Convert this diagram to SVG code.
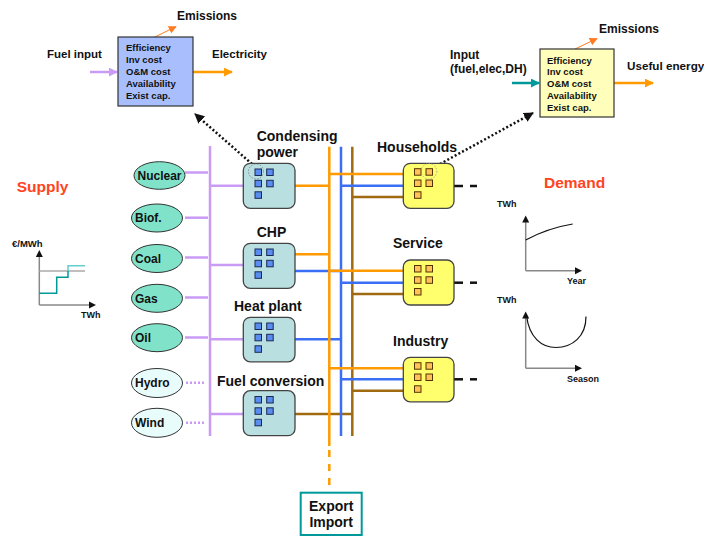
<svg xmlns="http://www.w3.org/2000/svg" width="704" height="536" viewBox="0 0 704 536">
<defs>
<style>
text{font-family:"Liberation Sans",Arial,sans-serif;font-weight:bold;fill:#111}
.lbl{font-size:14px}
.ell{font-size:12px}
.sm{font-size:9.5px}
.ax{font-size:9px}
.mid{font-size:12px}
.red{font-size:15.5px;fill:#ff4422}
.src{fill:#80e2c9;stroke:#333;stroke-width:1}
.src2{fill:#e8fcfc;stroke:#333;stroke-width:1}
.pbox{fill:#b9dfe0;stroke:#444;stroke-width:1.3}
.cbox{fill:#ffff6e;stroke:#444;stroke-width:1.3}
.bsq{fill:#5b8cf0;stroke:#1a2a55;stroke-width:1}
.osq{fill:#ffc35a;stroke:#553300;stroke-width:1}
.pu{stroke:#c99bf5;stroke-width:2.5;fill:none}
.pud{stroke:#c99bf5;stroke-width:2.5;fill:none;stroke-dasharray:2 2}
.or{stroke:#ff9a00;stroke-width:2.5;fill:none}
.bl{stroke:#3a6ff5;stroke-width:2.5;fill:none}
.br{stroke:#a06a10;stroke-width:2.5;fill:none}
.dash{stroke:#111;stroke-width:2.5}
.dot{stroke:#111;stroke-width:2.5;stroke-dasharray:2 2.2;fill:none}
.circ{fill:none;stroke:#777;stroke-width:0.8;stroke-dasharray:1.5 1.5}
.axis{stroke:#888;stroke-width:1.5;fill:none}
</style>
<marker id="ahK" viewBox="0 0 10 10" refX="9" refY="5" markerWidth="10" markerHeight="10" markerUnits="userSpaceOnUse" orient="auto"><path d="M0,0L10,5L0,10z" fill="#111"/></marker>
<marker id="ahO" viewBox="0 0 10 10" refX="9" refY="5" markerWidth="9" markerHeight="9" markerUnits="userSpaceOnUse" orient="auto"><path d="M0,0L10,5L0,10z" fill="#ff9a00"/></marker>
<marker id="ahOs" viewBox="0 0 10 10" refX="9" refY="5" markerWidth="8" markerHeight="8" markerUnits="userSpaceOnUse" orient="auto"><path d="M0,0L10,5L0,10z" fill="#ff7a20"/></marker>
<marker id="ahP" viewBox="0 0 10 10" refX="9" refY="5" markerWidth="9" markerHeight="9" markerUnits="userSpaceOnUse" orient="auto"><path d="M0,0L10,5L0,10z" fill="#c99bf5"/></marker>
<marker id="ahT" viewBox="0 0 10 10" refX="9" refY="5" markerWidth="9" markerHeight="9" markerUnits="userSpaceOnUse" orient="auto"><path d="M0,0L10,5L0,10z" fill="#009999"/></marker>
</defs>
<rect width="704" height="536" fill="#fff"/>

<g id="connectors">
<line class="pu" x1="210" y1="146" x2="210" y2="436"/>
<line class="pu" x1="185" y1="172.5" x2="208" y2="172.5"/>
<line class="pu" x1="185" y1="217.7" x2="208" y2="217.7"/>
<line class="pu" x1="185" y1="257.5" x2="208" y2="257.5"/>
<line class="pu" x1="185" y1="297.5" x2="208" y2="297.5"/>
<line class="pu" x1="185" y1="337.5" x2="208" y2="337.5"/>
<line class="pud" x1="186" y1="382.7" x2="206" y2="382.7"/>
<line class="pud" x1="186" y1="422.7" x2="206" y2="422.7"/>
<line class="pu" x1="210" y1="185.7" x2="243" y2="185.7"/>
<line class="pu" x1="210" y1="265" x2="243" y2="265"/>
<line class="pu" x1="210" y1="339.3" x2="243" y2="339.3"/>
<line class="pu" x1="210" y1="414" x2="243" y2="414"/>
<line class="bl" x1="295" y1="271" x2="341" y2="271"/>
<line class="bl" x1="295" y1="339.3" x2="341" y2="339.3"/>
<line class="br" x1="295" y1="414" x2="352.3" y2="414"/>
<line class="br" x1="352.3" y1="146.7" x2="352.3" y2="436"/>
<line class="bl" x1="341" y1="146.7" x2="341" y2="436"/>
<line class="or" x1="329.3" y1="146.7" x2="329.3" y2="446"/>
<line class="or" x1="329.3" y1="450" x2="329.3" y2="488" stroke-dasharray="7 7"/>
<line class="or" x1="295" y1="185.7" x2="329.3" y2="185.7"/>
<line class="or" x1="295" y1="254.3" x2="329.3" y2="254.3"/>
<line class="or" x1="329.3" y1="174" x2="403" y2="174"/>
<line class="bl" x1="341" y1="185.7" x2="403" y2="185.7"/>
<line class="br" x1="352.3" y1="197" x2="403" y2="197"/>
<line class="or" x1="329.3" y1="270.7" x2="403" y2="270.7"/>
<line class="bl" x1="341" y1="282.7" x2="403" y2="282.7"/>
<line class="br" x1="352.3" y1="294" x2="403" y2="294"/>
<line class="or" x1="329.3" y1="368.3" x2="403" y2="368.3"/>
<line class="bl" x1="341" y1="379.3" x2="403" y2="379.3"/>
<line class="br" x1="352.3" y1="390.7" x2="403" y2="390.7"/>
<line class="dash" x1="454" y1="186" x2="463" y2="186"/>
<line class="dash" x1="470" y1="186" x2="477" y2="186"/>
<line class="dash" x1="454" y1="282.7" x2="463" y2="282.7"/>
<line class="dash" x1="470" y1="282.7" x2="477" y2="282.7"/>
<line class="dash" x1="454" y1="379.3" x2="463" y2="379.3"/>
<line class="dash" x1="470" y1="379.3" x2="477" y2="379.3"/>
<line class="dot" x1="252" y1="164" x2="195" y2="114" marker-end="url(#ahK)"/>
<line class="dot" x1="440" y1="164" x2="533" y2="113" marker-end="url(#ahK)"/>
<line stroke="#c99bf5" stroke-width="2.5" x1="90" y1="72" x2="117" y2="72" marker-end="url(#ahP)"/>
<line class="or" x1="193" y1="72" x2="232" y2="72" marker-end="url(#ahO)"/>
<line stroke="#ff7a20" stroke-width="1" x1="153" y1="38" x2="176" y2="26.5" marker-end="url(#ahOs)"/>
<line stroke="#009999" stroke-width="2.5" x1="512" y1="83" x2="539" y2="83" marker-end="url(#ahT)"/>
<line class="or" x1="614" y1="83" x2="653" y2="83" marker-end="url(#ahO)"/>
<line stroke="#ff7a20" stroke-width="1" x1="575" y1="49" x2="597" y2="38.5" marker-end="url(#ahOs)"/>
</g>

<g id="detail-plant">
<rect x="118" y="37" width="75" height="69" fill="#a9bffd" stroke="#333" stroke-width="1.2"/>
<text class="sm" x="126" y="51">Efficiency</text>
<text class="sm" x="126" y="63">Inv cost</text>
<text class="sm" x="126" y="75">O&amp;M cost</text>
<text class="sm" x="126" y="87">Availability</text>
<text class="sm" x="126" y="99">Exist cap.</text>
<text class="mid" x="47" y="58" style="font-size:11.5px">Fuel input</text>
<text class="mid" x="212" y="58" style="font-size:11.5px">Electricity</text>
<text class="mid" x="177" y="20">Emissions</text>
</g>

<g id="detail-demand">
<rect x="540" y="49" width="74" height="68" fill="#ffffbb" stroke="#333" stroke-width="1.2"/>
<text class="sm" x="547" y="63.5">Efficiency</text>
<text class="sm" x="547" y="75.3">Inv cost</text>
<text class="sm" x="547" y="87.1">O&amp;M cost</text>
<text class="sm" x="547" y="98.9">Availability</text>
<text class="sm" x="547" y="110.7">Exist cap.</text>
<text class="mid" x="450" y="58.5">Input</text>
<text class="mid" x="450" y="72.5">(fuel,elec,DH)</text>
<text class="mid" x="627" y="70" style="font-size:11.7px">Useful energy</text>
<text class="mid" x="599" y="32.7">Emissions</text>
</g>

<text class="red" x="16.7" y="191.7">Supply</text>
<text class="red" x="544" y="188">Demand</text>

<g id="supply-chart">
<line class="axis" x1="39.3" y1="305" x2="39.3" y2="256"/>
<line class="axis" x1="39.3" y1="305" x2="90" y2="305"/>
<path d="M39.3,250 l-3.5,7 l7,0z" fill="#111"/>
<path d="M96,305 l-7,-3.5 l0,7z" fill="#111"/>
<line x1="39.3" y1="271" x2="85" y2="271" stroke="#aaa" stroke-width="1.5"/>
<polyline points="39.3,293.3 56.7,293.3 56.7,277.3 68,277.3 68,271" fill="none" stroke="#00999a" stroke-width="1.5"/>
<polyline points="68,271 68,265.7 85,265.7" fill="none" stroke="#66cccc" stroke-width="1.5"/>
<text class="ax" x="12" y="246.7" style="font-size:9.5px">€/MWh</text>
<text class="ax" x="81" y="318">TWh</text>
</g>

<g id="demand-year-chart">
<line class="axis" x1="525.7" y1="270.7" x2="525.7" y2="222"/>
<line class="axis" x1="525.7" y1="270.7" x2="575" y2="270.7"/>
<path d="M525.7,215.5 l-3.5,7 l7,0z" fill="#111"/>
<path d="M582,270.7 l-7,-3.5 l0,7z" fill="#111"/>
<path d="M525.7,240 Q548,228 572.7,224" fill="none" stroke="#111" stroke-width="1.2"/>
<text class="ax" x="497" y="206.7">TWh</text>
<text class="ax" x="567" y="284">Year</text>
</g>

<g id="demand-season-chart">
<line class="axis" x1="525.7" y1="368.3" x2="525.7" y2="318"/>
<line class="axis" x1="525.7" y1="368.3" x2="575" y2="368.3"/>
<path d="M525.7,311.5 l-3.5,7 l7,0z" fill="#111"/>
<path d="M582,368.3 l-7,-3.5 l0,7z" fill="#111"/>
<path d="M526.5,315 C529,338 542,347.5 556,347.5 C572,347.5 586,337 586,316.5" fill="none" stroke="#111" stroke-width="1.2"/>
<text class="ax" x="497" y="302.7">TWh</text>
<text class="ax" x="567" y="381.5">Season</text>
</g>

<g id="nuclear"><ellipse class="src" cx="159.5" cy="175.5" rx="25.5" ry="13.8"/><text class="ell" x="137.5" y="179.7">Nuclear</text></g>
<g id="biof"><ellipse class="src" cx="157" cy="218" rx="25.5" ry="14"/><text class="ell" x="135" y="222.2">Biof.</text></g>
<g id="coal"><ellipse class="src" cx="157" cy="258.5" rx="25.5" ry="14"/><text class="ell" x="135" y="262.7">Coal</text></g>
<g id="gas"><ellipse class="src" cx="157" cy="298.3" rx="25.5" ry="14"/><text class="ell" x="135" y="302.5">Gas</text></g>
<g id="oil"><ellipse class="src" cx="157" cy="337.7" rx="25.5" ry="14"/><text class="ell" x="135" y="341.9">Oil</text></g>
<g id="hydro"><ellipse class="src2" cx="157" cy="383" rx="25.5" ry="14.5"/><text class="ell" x="135" y="387.2">Hydro</text></g>
<g id="wind"><ellipse class="src2" cx="157" cy="422.8" rx="25.5" ry="14.5"/><text class="ell" x="135" y="427">Wind</text></g>

<g id="condensing">
<rect class="pbox" x="243.3" y="163.3" width="51.7" height="45" rx="7"/>
<rect class="bsq" x="255" y="169" width="6.5" height="6.5"/><rect class="bsq" x="266.7" y="169" width="6.5" height="6.5"/>
<rect class="bsq" x="255" y="180.3" width="6.5" height="6.5"/><rect class="bsq" x="266.7" y="180.3" width="6.5" height="6.5"/>
<rect class="bsq" x="255" y="191.8" width="6.5" height="6.5"/>
<circle class="circ" cx="256" cy="171.5" r="7.5"/>
<text class="lbl" x="256.7" y="140.5">Condensing</text>
<text class="lbl" x="256.7" y="156.5">power</text>
</g>
<g id="chp">
<rect class="pbox" x="243.3" y="243.3" width="51.7" height="45" rx="7"/>
<rect class="bsq" x="255" y="249" width="6.5" height="6.5"/><rect class="bsq" x="266.7" y="249" width="6.5" height="6.5"/>
<rect class="bsq" x="255" y="260.3" width="6.5" height="6.5"/><rect class="bsq" x="266.7" y="260.3" width="6.5" height="6.5"/>
<rect class="bsq" x="255" y="271.8" width="6.5" height="6.5"/>
<text class="lbl" x="256.7" y="237.3">CHP</text>
</g>
<g id="heat-plant">
<rect class="pbox" x="243.3" y="317.3" width="51.7" height="44.5" rx="7"/>
<rect class="bsq" x="255" y="323" width="6.5" height="6.5"/><rect class="bsq" x="266.7" y="323" width="6.5" height="6.5"/>
<rect class="bsq" x="255" y="334.3" width="6.5" height="6.5"/><rect class="bsq" x="266.7" y="334.3" width="6.5" height="6.5"/>
<rect class="bsq" x="255" y="345.8" width="6.5" height="6.5"/>
<text class="lbl" x="234" y="310.7">Heat plant</text>
</g>
<g id="fuel-conversion">
<rect class="pbox" x="243.3" y="390.7" width="51.7" height="45" rx="7"/>
<rect class="bsq" x="255" y="396.5" width="6.5" height="6.5"/><rect class="bsq" x="266.7" y="396.5" width="6.5" height="6.5"/>
<rect class="bsq" x="255" y="407.8" width="6.5" height="6.5"/><rect class="bsq" x="266.7" y="407.8" width="6.5" height="6.5"/>
<rect class="bsq" x="255" y="419.3" width="6.5" height="6.5"/>
<text class="lbl" x="217" y="385.7">Fuel conversion</text>
</g>

<g id="households">
<rect class="cbox" x="403.3" y="163.3" width="50.7" height="45" rx="7"/>
<rect class="osq" x="414.5" y="168.7" width="6.5" height="6.5"/><rect class="osq" x="426" y="168.7" width="6.5" height="6.5"/>
<rect class="osq" x="414.5" y="180" width="6.5" height="6.5"/><rect class="osq" x="426" y="180" width="6.5" height="6.5"/>
<rect class="osq" x="414.5" y="191.8" width="6.5" height="6.5"/>
<circle class="circ" cx="429" cy="171.3" r="7.8" style="stroke:#999"/>
<text class="lbl" x="377" y="151.7">Households</text>
</g>
<g id="service">
<rect class="cbox" x="403.3" y="260" width="50.7" height="45" rx="7"/>
<rect class="osq" x="414.5" y="265.5" width="6.5" height="6.5"/><rect class="osq" x="426" y="265.5" width="6.5" height="6.5"/>
<rect class="osq" x="414.5" y="276.8" width="6.5" height="6.5"/><rect class="osq" x="426" y="276.8" width="6.5" height="6.5"/>
<rect class="osq" x="414.5" y="288.5" width="6.5" height="6.5"/>
<text class="lbl" x="393" y="248.3">Service</text>
</g>
<g id="industry">
<rect class="cbox" x="403.3" y="357.3" width="50.7" height="44.5" rx="7"/>
<rect class="osq" x="414.5" y="362.7" width="6.5" height="6.5"/><rect class="osq" x="426" y="362.7" width="6.5" height="6.5"/>
<rect class="osq" x="414.5" y="374" width="6.5" height="6.5"/><rect class="osq" x="426" y="374" width="6.5" height="6.5"/>
<rect class="osq" x="414.5" y="385.8" width="6.5" height="6.5"/>
<text class="lbl" x="393" y="345.7">Industry</text>
</g>

<g id="export-import">
<rect x="300.7" y="492.7" width="61" height="42.3" fill="#fff" stroke="#009999" stroke-width="2"/>
<text class="lbl" x="331.2" y="511" text-anchor="middle">Export</text>
<text class="lbl" x="331.2" y="527" text-anchor="middle">Import</text>
</g>
</svg>
